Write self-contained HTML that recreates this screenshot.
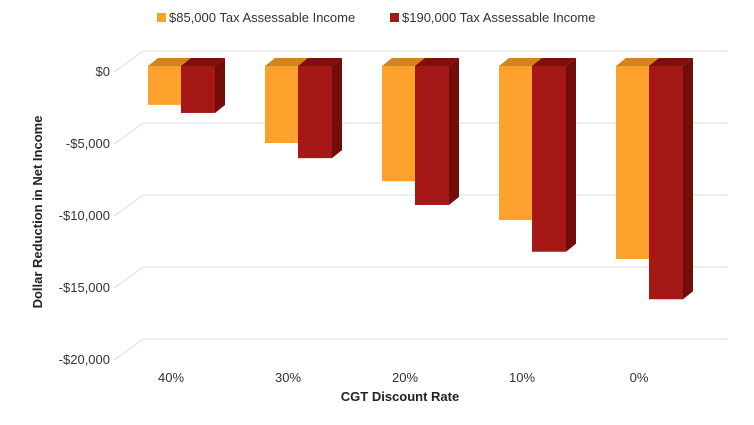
<!DOCTYPE html>
<html><head><meta charset="utf-8"><style>
body{margin:0;background:#fff;font-family:"Liberation Sans",sans-serif}
svg text{font-family:"Liberation Sans",sans-serif}
</style></head><body>
<svg width="754" height="420">
<g>
<rect x="157" y="13" width="9" height="9" fill="#fca12b"/>
<text x="169" y="22" font-size="13" fill="#333">$85,000 Tax Assessable Income</text>
<rect x="390" y="13" width="9" height="9" fill="#a51815"/>
<text x="402" y="22" font-size="13" fill="#333">$190,000 Tax Assessable Income</text>
</g>
<g id="grid"></g>
<g id="ticks"></g>
<g id="bars"></g>
<g id="xl"></g>
<text x="400" y="401" text-anchor="middle" font-size="13" font-weight="bold" fill="#222">CGT Discount Rate</text>
<text transform="translate(42,212) rotate(-90)" text-anchor="middle" font-size="13" font-weight="bold" fill="#222">Dollar Reduction in Net Income</text>
</svg>
<script>
const categories=["40%","30%","20%","10%","0%"];
const income85=[-2700,-5350,-8000,-10700,-13400];
const income190=[-3260,-6400,-9650,-12900,-16200];
const yTicks=[0,-5000,-10000,-15000,-20000];
const yTickLabels=["$0","-$5,000","-$10,000","-$15,000","-$20,000"];
const NS="http://www.w3.org/2000/svg";
function mk(t,a,p){const e=document.createElementNS(NS,t);for(const k in a)e.setAttribute(k,a[k]);p.appendChild(e);return e;}
function yF(v){return 66-v/5000*72;}
function yB(v){return 51-v/5000*72;}
function xC(i){return 182+i*117;}
const grid=document.getElementById('grid'),ticks=document.getElementById('ticks'),bars=document.getElementById('bars'),xl=document.getElementById('xl');
yTicks.forEach((v,i)=>{
 const g=mk('polyline',{points:`114,${yB(v)+21} 143,${yB(v)} 727,${yB(v)}`,fill:'none',stroke:'#e3e3e3','stroke-width':1.2},grid);
 
 
 const t=mk('text',{x:110,y:yB(v)+25,'text-anchor':'end','font-size':13,fill:'#333'},ticks);
 t.textContent=yTickLabels[i];
 
 
});
const W=34,DX=10,DY=8;
function bar(x,v,front,top,side){
 const y0=yF(0),y1=yF(v);
 const g=mk('g',{},bars);
 
 
 mk('polygon',{points:`${x},${y0} ${x+DX},${y0-DY} ${x+W+DX},${y0-DY} ${x+W},${y0}`,fill:top},g);
 mk('polygon',{points:`${x+W},${y0} ${x+W+DX},${y0-DY} ${x+W+DX},${y1-DY} ${x+W},${y1}`,fill:side},g);
 mk('rect',{x:x,y:y0,width:W,height:y1-y0,fill:front},g);
}
categories.forEach((c,i)=>{
 const cx=xC(i);
 bar(cx-W,income85[i],'#fca12b','#d2851f','#c07a1c');
 bar(cx-1,income190[i],'#a51815','#7d0f0c','#730d0a');
 const t=mk('text',{x:cx-11,y:382,'text-anchor':'middle','font-size':13,fill:'#333'},xl);
 t.textContent=c;
 
 
});
</script>
</body></html>
